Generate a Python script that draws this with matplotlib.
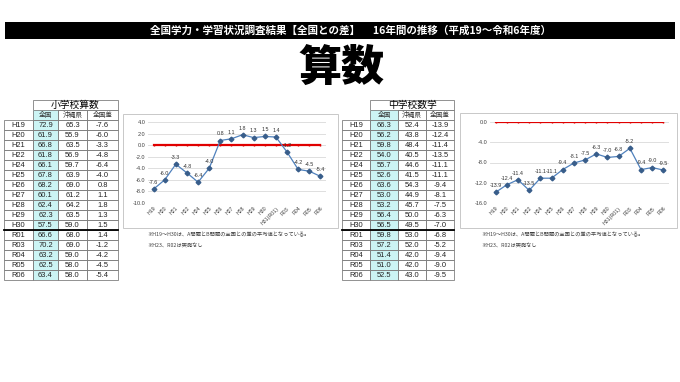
import matplotlib.pyplot as plt
from matplotlib.patches import Rectangle

plt.rcParams['font.family'] = ['Noto Sans CJK JP', 'DejaVu Sans']

# Step 1: data
years = ['H19', 'H20', 'H21', 'H22', 'H24', 'H25', 'H26', 'H27',
         'H28', 'H29', 'H30', 'R01', 'R03', 'R04', 'R05', 'R06']
chart_labels = ['H19', 'H20', 'H21', 'H22', 'H24', 'H25', 'H26', 'H27',
                'H28', 'H29', 'H30', 'H31(R01)', 'R03', 'R04', 'R05', 'R06']

elem_nation = [72.9, 61.9, 66.8, 61.8, 66.1, 67.8, 68.2, 60.1, 62.4, 62.3, 57.5, 66.6, 70.2, 63.2, 62.5, 63.4]
elem_okinawa = [65.3, 55.9, 63.5, 56.9, 59.7, 63.9, 69.0, 61.2, 64.2, 63.5, 59.0, 68.0, 69.0, 59.0, 58.0, 58.0]
elem_diff = [-7.6, -6.0, -3.3, -4.8, -6.4, -4.0, 0.8, 1.1, 1.8, 1.3, 1.5, 1.4, -1.2, -4.2, -4.5, -5.4]

mid_nation = [66.3, 56.2, 59.8, 54.0, 55.7, 52.6, 63.6, 53.0, 53.2, 56.4, 56.5, 59.8, 57.2, 51.4, 51.0, 52.5]
mid_okinawa = [52.4, 43.8, 48.4, 40.5, 44.6, 41.5, 54.3, 44.9, 45.7, 50.0, 49.5, 53.0, 52.0, 42.0, 42.0, 43.0]
mid_diff = [-13.9, -12.4, -11.4, -13.5, -11.1, -11.1, -9.4, -8.1, -7.5, -6.3, -7.0, -6.8, -5.2, -9.4, -9.0, -9.5]

col_heads = ['全国', '沖縄県', '全国差']
notes = ['※H19～H30は、A問題とB問題の全国との差の平均値となっている。', '※H23、R02は実施なし']

W, H = 680, 382
fig = plt.figure(figsize=(W / 100, H / 100), dpi=100)

# background axes in pixel coordinates
bg = fig.add_axes([0, 0, 1, 1])
bg.set_xlim(0, W)
bg.set_ylim(H, 0)
bg.axis('off')

# Step 2: title bar and big title
bg.add_patch(Rectangle((5, 22), 670, 17, facecolor='black', edgecolor='none'))
bg.text(350, 30.5, '全国学力・学習状況調査結果【全国との差】　 16年間の推移（平成19～令和6年度）',
        color='white', fontsize=7.6, fontweight='bold', ha='center', va='center')
bg.text(341, 68, '算数', fontsize=31, fontweight='black', ha='center', va='center')


def draw_table(x_edges, title, nation, okinawa, diff):
    top, row_h = 100, 10
    # title row and column header row over the value columns
    bg.add_patch(Rectangle((x_edges[1], top), x_edges[4] - x_edges[1], row_h,
                           facecolor='white', edgecolor='#808080', lw=0.6))
    bg.text((x_edges[1] + x_edges[4]) / 2, top + row_h / 2, title,
            fontsize=7, ha='center', va='center')
    # cyan column
    n = len(years)
    bg.add_patch(Rectangle((x_edges[1], top + row_h), x_edges[2] - x_edges[1], row_h * (n + 1),
                           facecolor='#CCF4F4', edgecolor='none'))
    y = top + row_h
    for j, h in enumerate(col_heads):
        bg.add_patch(Rectangle((x_edges[j + 1], y), x_edges[j + 2] - x_edges[j + 1], row_h,
                               facecolor='none', edgecolor='#808080', lw=0.6))
        bg.text((x_edges[j + 1] + x_edges[j + 2]) / 2, y + row_h / 2, h,
                fontsize=4.8, ha='center', va='center', color='#333333')
    for i in range(n):
        y = top + row_h * (i + 2)
        vals = [years[i], f'{nation[i]:.1f}', f'{okinawa[i]:.1f}', f'{diff[i]:.1f}']
        for j, v in enumerate(vals):
            bg.add_patch(Rectangle((x_edges[j], y), x_edges[j + 1] - x_edges[j], row_h,
                                   facecolor='none', edgecolor='#808080', lw=0.6))
            bg.text((x_edges[j] + x_edges[j + 1]) / 2, y + row_h / 2 + 0.3, v,
                    fontsize=5.4, ha='center', va='center', color='#222222',
                    family=['Liberation Sans', 'Noto Sans CJK JP'])
    # thick line between H30 and R01
    y_sep = top + row_h * (years.index('R01') + 2)
    bg.plot([x_edges[0], x_edges[4]], [y_sep, y_sep], color='black', lw=1.3)


def draw_chart(frame, plot_box, diff, ylim, yticks, note_x):
    fx0, fy0, fx1, fy1 = frame
    bg.add_patch(Rectangle((fx0, fy0), fx1 - fx0, fy1 - fy0,
                           facecolor='white', edgecolor='#C8C8C8', lw=0.7))
    x0, y0, x1, y1 = plot_box
    ax = fig.add_axes([x0 / W, 1 - y1 / H, (x1 - x0) / W, (y1 - y0) / H])
    ax.set_facecolor('none')
    xs = range(len(diff))
    ax.plot(xs, [0] * len(diff), color='#E00000', lw=1.6, marker='|', ms=2, zorder=2)
    ax.plot(xs, diff, color='#4F81BD', lw=0.9, marker='D', ms=2.4,
            mfc='#385D8A', mec='#385D8A', zorder=3)
    for xi, v in zip(xs, diff):
        ax.annotate(f'{v:.1f}', (xi, v), xytext=(0, 3), textcoords='offset points',
                    ha='center', va='bottom', fontsize=3.9, color='#333333',
                    family=['Liberation Sans', 'Noto Sans CJK JP'])
    ax.set_xlim(-0.5, len(diff) - 0.5)
    ax.set_ylim(*ylim)
    ax.set_yticks(yticks)
    ax.set_yticklabels([f'{t:.1f}' for t in yticks], fontsize=4, color='#404040',
                       family=['Liberation Sans', 'Noto Sans CJK JP'])
    ax.set_xticks(list(xs))
    ax.set_xticklabels(chart_labels, rotation=45, ha='right', rotation_mode='anchor',
                       fontsize=3.8, color='#404040',
                       family=['Liberation Sans', 'Noto Sans CJK JP'])
    ax.tick_params(length=0, pad=2)
    ax.grid(axis='y', color='#D9D9D9', lw=0.6)
    ax.set_axisbelow(True)
    for s in ax.spines.values():
        s.set_visible(False)
    bg.text(note_x, 235, notes[0], fontsize=3.8, va='center', color='#404040')
    bg.text(note_x, 246, notes[1], fontsize=3.8, va='center', color='#404040')


# Step 3: tables and charts
draw_table([4, 33, 58, 87, 118], '小学校算数', elem_nation, elem_okinawa, elem_diff)
draw_table([342, 370, 398, 426, 454], '中学校数学', mid_nation, mid_okinawa, mid_diff)

draw_chart((123, 114, 338, 228), (148, 122, 326, 203), elem_diff,
           (-10, 4), [4, 2, 0, -2, -4, -6, -8, -10], 147)
draw_chart((460, 113, 677, 228), (490, 122, 669, 203), mid_diff,
           (-16, 0), [0, -4, -8, -12, -16], 481)

fig.savefig('out.png', dpi=100)
